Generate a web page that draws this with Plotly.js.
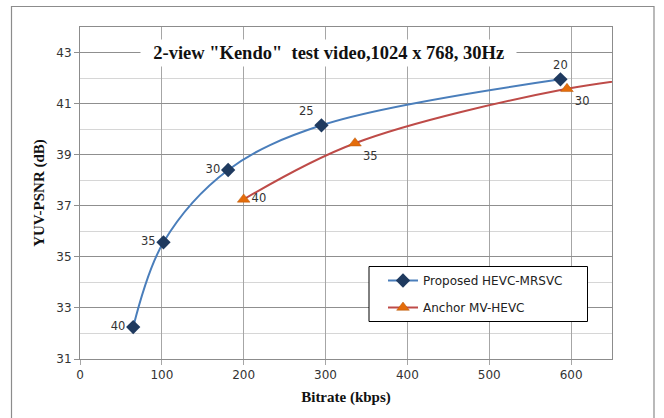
<!DOCTYPE html>
<html>
<head>
<meta charset="utf-8">
<script src="https://cdn.plot.ly/plotly-3.0.1.min.js"></script>
<style>html,body{margin:0;padding:0;background:#fff;}#chart{width:664px;height:418px;}</style>
</head>
<body>
<div id="chart"></div>
<script>
// Proposed HEVC-MRSVC
const proposedBitrate = [65, 102, 181, 295, 587];
const proposedPSNR    = [32.25, 35.57, 38.4, 40.15, 41.95];
const proposedQP      = ["40", "35", "30", "25", "20"];
// Anchor MV-HEVC (last point lies beyond the axis; the curve continues to the edge)
const anchorBitrate = [200, 336, 595, 720];
const anchorPSNR    = [37.25, 39.45, 41.58, 42.1];
const anchorQP      = ["40", "35", "30", ""];

const xTicks = [0, 100, 200, 300, 400, 500, 600];
const yTicks = [31, 33, 35, 37, 39, 41, 43];
const chartTitle = '2-view "Kendo"  test video,1024 x 768, 30Hz';

const labelFont = {family: "DejaVu Sans", size: 11.5, color: "#333333"};

const traces = [
  {
    x: proposedBitrate, y: proposedPSNR, text: proposedQP,
    name: "Proposed HEVC-MRSVC", legendgroup: "a",
    mode: "lines+markers+text", type: "scatter",
    line: {color: "#4a7ebb", width: 2, shape: "spline", smoothing: 1},
    marker: {symbol: "diamond", size: 11, color: "#1f3a5f"},
    textposition: ["middle left", "middle left", "middle left", "top left", "top center"],
    textfont: labelFont
  },
  {
    x: anchorBitrate, y: anchorPSNR, text: anchorQP,
    name: "Anchor MV-HEVC", legendgroup: "b",
    mode: "lines+markers+text", type: "scatter",
    line: {color: "#be4b48", width: 2, shape: "spline", smoothing: 1},
    marker: {symbol: "triangle-up", size: 11, color: "#e46c0a", line: {color: "#b65708", width: 0.5}},
    textposition: ["middle right", "bottom right", "bottom right", "middle right"],
    textfont: labelFont
  }
];

const pl = 80, pr = 612, pt = 27, pb = 359;
const px = v => (v - pl) / (pr - pl);
const py = v => (pb - v) / (pb - pt);

const layout = {
  width: 664, height: 418,
  margin: {l: pl, r: 664 - pr, t: pt, b: 418 - pb},
  paper_bgcolor: "#fff", plot_bgcolor: "#fff",
  showlegend: true,
  legend: {
    x: px(383), y: py(266), xanchor: "left", yanchor: "top",
    bgcolor: "rgba(0,0,0,0)", borderwidth: 0,
    font: {family: "DejaVu Sans", size: 12, color: "#222"},
    tracegroupgap: 8, traceorder: "grouped"
  },
  xaxis: {
    range: [0, 650], tickvals: xTicks, ticktext: xTicks.map(String),
    showgrid: true, gridcolor: "#a6a6a6", gridwidth: 1,
    ticks: "outside", ticklen: 5, tickcolor: "#a6a6a6",
    showline: true, mirror: true, linecolor: "#8c8c8c", linewidth: 1,
    zeroline: false,
    tickfont: {family: "DejaVu Sans", size: 12, color: "#333"},
    title: {text: "<b>Bitrate (kbps)</b>", font: {family: "Liberation Serif", size: 15, color: "#111"}, standoff: 10}
  },
  yaxis: {
    range: [31, 44], tickvals: yTicks, ticktext: yTicks.map(String),
    showgrid: true, gridcolor: "#8f8f8f", gridwidth: 1,
    minor: {dtick: 1, tick0: 31, showgrid: true, gridcolor: "#d6d6d6", gridwidth: 1},
    ticks: "outside", ticklen: 5, tickcolor: "#8f8f8f",
    showline: true, mirror: true, linecolor: "#8c8c8c", linewidth: 1,
    zeroline: false,
    tickfont: {family: "DejaVu Sans", size: 12, color: "#333"},
    title: {text: "<b>YUV-PSNR (dB)</b>", font: {family: "Liberation Serif", size: 15, color: "#111"}, standoff: 8}
  },
  annotations: [
    {
      text: "<b>\u00a0\u00a0" + chartTitle + "\u00a0\u00a0</b>",
      xref: "paper", yref: "y", x: px(328), y: 43, xanchor: "center", yanchor: "middle",
      showarrow: false, bgcolor: "#fff", borderpad: 3,
      font: {family: "Liberation Serif", size: 18.5, color: "#111"}
    }
  ],
  shapes: [
    {type: "rect", xref: "paper", yref: "paper",
     x0: px(11.5), x1: px(654), y0: py(425), y1: py(6.5),
     line: {color: "#8c8c8c", width: 1.2}, fillcolor: "rgba(0,0,0,0)", layer: "below"},
    {type: "rect", xref: "paper", yref: "paper",
     x0: px(369), x1: px(587.5), y0: py(321.5), y1: py(266.5),
     line: {color: "#000", width: 1}, fillcolor: "#fff", layer: "above"}
  ]
};

Plotly.newPlot("chart", traces, layout, {displayModeBar: false, staticPlot: true});
</script>
</body>
</html>
